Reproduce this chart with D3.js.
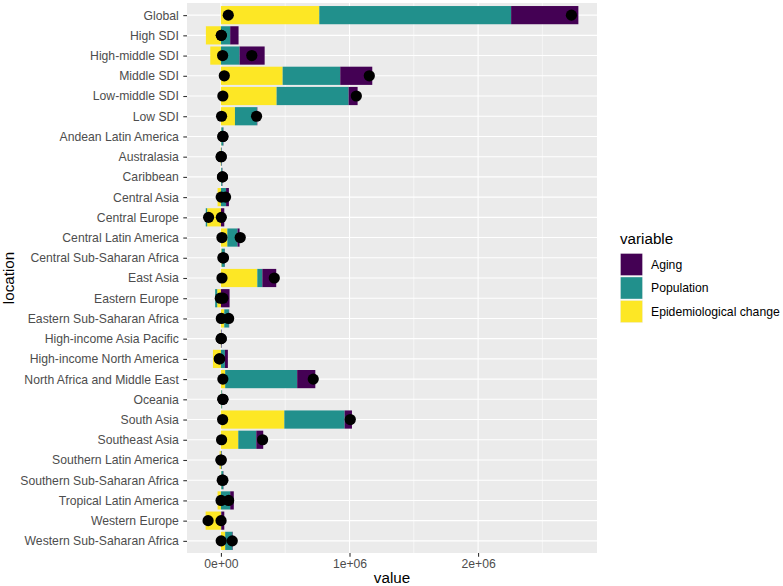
<!DOCTYPE html>
<html>
<head>
<meta charset="utf-8">
<script src="https://cdn.jsdelivr.net/npm/d3@7"></script>
<style>
  body { margin: 0; background: #ffffff; }
  svg { font-family: "Liberation Sans", Arial, sans-serif; }
</style>
</head>
<body>
<svg id="chart"></svg>
<script>
var locations = ["Global", "High SDI", "High-middle SDI", "Middle SDI", "Low-middle SDI", "Low SDI",
  "Andean Latin America", "Australasia", "Caribbean", "Central Asia", "Central Europe",
  "Central Latin America", "Central Sub-Saharan Africa", "East Asia", "Eastern Europe",
  "Eastern Sub-Saharan Africa", "High-income Asia Pacific", "High-income North America",
  "North Africa and Middle East", "Oceania", "South Asia", "Southeast Asia",
  "Southern Latin America", "Southern Sub-Saharan Africa", "Tropical Latin America",
  "Western Europe", "Western Sub-Saharan Africa"]

var aging = [523000, 65000, 195000, 249000, 70000, 3000,
  2000, 2000, 2000, 22000, 26000,
  16000, 1000, 108000, 67000,
  2000, 3000, 23000,
  141000, 1000, 57000, 54000,
  2000, 2000, 28000,
  23000, 3000]

var population = [1492000, 72000, 145000, 448000, 560000, 171000,
  15000, 5000, 8000, 40000, -11000,
  79000, 25000, 39000, -16000,
  36000, 3000, 31000,
  560000, 5000, 469000, 140000,
  5000, 15000, 72000,
  3000, 57000]

var epidemiological = [765000, -117000, -83000, 480000, 433000, 109000,
  3000, -3000, 2000, -26000, -107000,
  50000, 5000, 283000, -29000,
  26000, -2000, -62000,
  33000, 3000, 493000, 135000,
  -10000, 3000, -26000,
  -119000, 33000]

// two black points per location
var pointA = [57000, 3000, 13000, 26000, 15000, 5000,
  15000, 2000, 12000, 2000, -96000,
  8000, 15000, 8000, -5000,
  3000, 2000, -13000,
  15000, 15000, 13000, 5000,
  1000, 10000, 1000,
  -100000, 2000]

var pointB = [2726000, 3000, 240000, 1154000, 1053000, 277000,
  15000, 2000, 12000, 36000, 3000,
  150000, 20000, 415000, 15000,
  60000, 2000, -10000,
  718000, 15000, 1006000, 324000,
  1000, 15000, 60000,
  1000, 88000]

var variables = ["Aging", "Population", "Epidemiological change"]
var colors = ["#440154", "#21908C", "#FDE725"]
var xTicks = [0, 1e6, 2e6]
var xMinor = [0.5e6, 1.5e6, 2.5e6]

var dimensions = {
  width: 783,
  height: 586,
  margin: { top: 3, bottom: 33, right: 186, left: 187 }
}

var dataset = locations.map(function (loc, i) {
  return {
    location: loc,
    "Epidemiological change": epidemiological[i],
    "Population": population[i],
    "Aging": aging[i],
    a: pointA[i],
    b: pointB[i]
  }
})

// closest to zero first, like ggplot's position_stack
var stackKeys = ["Epidemiological change", "Population", "Aging"]
var stackedData = d3.stack().keys(stackKeys).offset(d3.stackOffsetDiverging)(dataset)

var colorScale = d3.scaleOrdinal().domain(variables).range(colors)

var svg = d3.select("#chart")
  .attr("width", dimensions.width)
  .attr("height", dimensions.height)

var pLeft = dimensions.margin.left
var pRight = dimensions.width - dimensions.margin.right
var pTop = dimensions.margin.top
var pBottom = dimensions.height - dimensions.margin.bottom

var lo = d3.min(stackedData, s => d3.min(s, d => d[0]))
var hi = d3.max(stackedData, s => d3.max(s, d => d[1]))
lo = Math.min(lo, d3.min(pointA), d3.min(pointB))
hi = Math.max(hi, d3.max(pointA), d3.max(pointB))
var pad = (hi - lo) * 0.05

var xScale = d3.scaleLinear()
  .domain([lo - pad, hi + pad])
  .range([pLeft, pRight])

var yScale = d3.scalePoint()
  .domain(locations)
  .range([pTop, pBottom])
  .padding(0.6)

var barH = yScale.step() * 0.9

function sciFormat(v) {
  var e = v === 0 ? 0 : Math.floor(Math.log10(Math.abs(v)))
  var m = v / Math.pow(10, e)
  return Math.round(m) + "e+" + (e < 10 ? "0" + e : e)
}

// panel
svg.append("rect")
  .attr("x", pLeft).attr("y", pTop)
  .attr("width", pRight - pLeft).attr("height", pBottom - pTop)
  .attr("fill", "#EBEBEB")

svg.append("g")
  .selectAll("line")
  .data(xMinor)
  .enter()
  .append("line")
  .attr("x1", d => xScale(d)).attr("x2", d => xScale(d))
  .attr("y1", pTop).attr("y2", pBottom)
  .attr("stroke", "#ffffff").attr("stroke-width", 0.55)

svg.append("g")
  .selectAll("line")
  .data(xTicks)
  .enter()
  .append("line")
  .attr("x1", d => xScale(d)).attr("x2", d => xScale(d))
  .attr("y1", pTop).attr("y2", pBottom)
  .attr("stroke", "#ffffff").attr("stroke-width", 1.1)

svg.append("g")
  .selectAll("line")
  .data(locations)
  .enter()
  .append("line")
  .attr("x1", pLeft).attr("x2", pRight)
  .attr("y1", d => yScale(d)).attr("y2", d => yScale(d))
  .attr("stroke", "#ffffff").attr("stroke-width", 1.1)

// bars
svg.append("g")
  .selectAll("g")
  .data(stackedData)
  .enter()
  .append("g")
  .attr("fill", d => colorScale(d.key))
  .selectAll("rect")
  .data(d => d)
  .enter()
  .append("rect")
  .attr("x", d => xScale(Math.min(d[0], d[1])))
  .attr("y", d => yScale(d.data.location) - barH / 2)
  .attr("width", d => Math.abs(xScale(d[1]) - xScale(d[0])))
  .attr("height", barH)

// points
var points = svg.append("g")
points.selectAll(".pa")
  .data(dataset)
  .enter()
  .append("circle")
  .attr("class", "pa")
  .attr("cx", d => xScale(d.a))
  .attr("cy", d => yScale(d.location))
  .attr("r", 5.6)
  .attr("fill", "#000000")
points.selectAll(".pb")
  .data(dataset)
  .enter()
  .append("circle")
  .attr("class", "pb")
  .attr("cx", d => xScale(d.b))
  .attr("cy", d => yScale(d.location))
  .attr("r", 5.6)
  .attr("fill", "#000000")

// axes
var xAxisGen = d3.axisBottom(xScale)
  .tickValues(xTicks)
  .tickSize(3.7)
  .tickPadding(3)
  .tickFormat(sciFormat)

var xAxis = svg.append("g")
  .call(xAxisGen)
  .style("transform", `translateY(${pBottom}px)`)

var yAxisGen = d3.axisLeft(yScale).tickSize(3.7).tickPadding(4.5)
var yAxis = svg.append("g")
  .call(yAxisGen)
  .style("transform", `translateX(${pLeft}px)`)

svg.selectAll(".domain").remove()
svg.selectAll(".tick line").attr("stroke", "#333333").attr("stroke-width", 1.1)
svg.selectAll(".tick text")
  .attr("fill", "#4D4D4D")
  .style("font-size", "12.2px")
  .style("font-family", "'Liberation Sans', Arial, sans-serif")

svg.append("text")
  .attr("x", (pLeft + pRight) / 2)
  .attr("y", 583)
  .attr("text-anchor", "middle")
  .style("font-size", "15.2px")
  .text("value")

svg.append("text")
  .attr("transform", `translate(14,${(pTop + pBottom) / 2}) rotate(-90)`)
  .attr("text-anchor", "middle")
  .style("font-size", "15.2px")
  .text("location")

// legend
var legend = svg.append("g").attr("transform", "translate(620,229)")
legend.append("text")
  .attr("x", 0).attr("y", 15)
  .style("font-size", "15.2px")
  .text("variable")

var items = legend.selectAll(".item")
  .data(variables)
  .enter()
  .append("g")
  .attr("transform", (d, i) => `translate(0,${24 + i * 23.5})`)

items.append("rect")
  .attr("width", 23).attr("height", 23)
  .attr("fill", "#F2F2F2")
items.append("rect")
  .attr("x", 0.7).attr("y", 0.7)
  .attr("width", 21.6).attr("height", 21.6)
  .attr("fill", d => colorScale(d))
items.append("text")
  .attr("x", 31).attr("y", 11.5)
  .attr("dy", "0.35em")
  .style("font-size", "12.2px")
  .attr("fill", "#000000")
  .text(d => d)
</script>
</body>
</html>
